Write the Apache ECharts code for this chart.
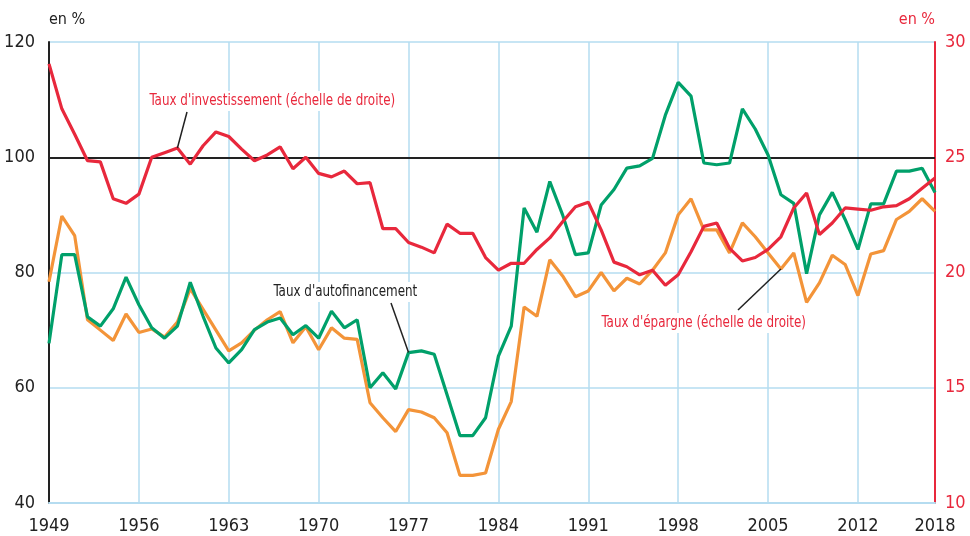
<!DOCTYPE html>
<html>
<head>
<meta charset="utf-8">
<script src="https://cdn.jsdelivr.net/npm/echarts@6/dist/echarts.min.js"></script>
<style>
html, body { margin: 0; padding: 0; background: #fff; }
#main { width: 970px; height: 536px; }
</style>
</head>
<body>
<div id="main"></div>
<script>
var years = [];
for (var y = 1949; y <= 2018; y++) {
    years.push(String(y));
}
// taux d'autofinancement (echelle de gauche)
var autofin = [67.7, 83.1, 83.1, 72.3, 70.7, 73.7, 79.2, 74.4, 70.4, 68.6,
    70.7, 78.3, 72.4, 66.9, 64.3, 66.6, 70.1, 71.4, 72.1, 69.2,
    70.8, 68.6, 73.3, 70.4, 71.8, 60.0, 62.6, 59.8, 66.1, 66.4,
    65.8, 58.8, 51.7, 51.7, 54.8, 65.5, 70.7, 91.2, 87.0, 95.8,
    90.0, 83.1, 83.4, 91.7, 94.4, 98.1, 98.5, 99.8, 107.3, 113.0,
    110.6, 99.0, 98.7, 99.0, 108.4, 104.9, 100.4, 93.5, 92.0, 79.8,
    90.0, 93.9, 89.2, 84.0, 91.9, 91.9, 97.6, 97.6, 98.1, 93.9];
// taux d'investissement (echelle de droite)
var invest = [29.05, 27.1, 26.0, 24.85, 24.8, 23.2, 23.0, 23.4, 25.0, 25.2,
    25.4, 24.7, 25.5, 26.1, 25.9, 25.35, 24.85, 25.1, 25.45, 24.5,
    25.0, 24.3, 24.15, 24.4, 23.85, 23.9, 21.9, 21.9, 21.3, 21.1,
    20.85, 22.1, 21.7, 21.7, 20.65, 20.1, 20.4, 20.4, 21.0, 21.5,
    22.2, 22.85, 23.05, 21.85, 20.45, 20.25, 19.9, 20.1, 19.45, 19.9,
    20.9, 22.0, 22.15, 21.05, 20.5, 20.65, 21.0, 21.55, 22.8, 23.45,
    21.65, 22.15, 22.8, 22.75, 22.7, 22.85, 22.9, 23.2, 23.65, 24.1];
// taux d'epargne (echelle de droite)
var epargne = [19.6, 22.45, 21.6, 17.95, 17.5, 17.05, 18.2, 17.4, 17.55, 17.2,
    17.85, 19.3, 18.4, 17.5, 16.6, 16.95, 17.5, 17.95, 18.3, 16.95,
    17.65, 16.65, 17.6, 17.15, 17.1, 14.35, 13.7, 13.1, 14.05, 13.95,
    13.7, 13.05, 11.2, 11.2, 11.3, 13.2, 14.4, 18.5, 18.1, 20.55,
    19.85, 18.95, 19.2, 20.0, 19.2, 19.75, 19.5, 20.1, 20.85, 22.5,
    23.2, 21.85, 21.85, 20.85, 22.15, 21.55, 20.85, 20.15, 20.85, 18.7,
    19.55, 20.75, 20.35, 19.0, 20.8, 20.95, 22.3, 22.65, 23.2, 22.65];

var FONT = "'Liberation Sans Narrow', 'DejaVu Sans Condensed', sans-serif";
var RED = '#e8283c';
var GREEN = '#00a06a';
var ORANGE = '#f39439';
var GRID = '#b5dcf0';

var chart = echarts.init(document.getElementById('main'));

function showTick(idx) {
    return idx % 7 === 0 || idx === years.length - 1;
}

var option = {
    animation: false,
    backgroundColor: '#fff',
    grid: { left: 49, right: 35, top: 42, bottom: 33 },
    xAxis: {
        type: 'category',
        boundaryGap: false,
        data: years,
        axisLine: { show: true, lineStyle: { color: GRID, width: 2 } },
        axisTick: { show: false },
        axisLabel: {
            interval: showTick,
            color: '#222',
            fontSize: 18,
            fontFamily: FONT,
            margin: 14
        },
        splitLine: {
            show: true,
            interval: showTick,
            lineStyle: { color: GRID, width: 1.5 }
        }
    },
    yAxis: [
        {
            type: 'value',
            min: 40,
            max: 120,
            interval: 20,
            name: 'en %',
            nameLocation: 'end',
            nameGap: 14,
            nameTextStyle: { color: '#222', fontSize: 16, fontFamily: FONT, align: 'left' },
            axisLine: { show: true, lineStyle: { color: '#222', width: 2 } },
            axisTick: { show: false },
            axisLabel: { color: '#222', fontSize: 18, fontFamily: FONT, margin: 14 },
            splitLine: { show: true, lineStyle: { color: GRID, width: 1.5 } }
        },
        {
            type: 'value',
            min: 10,
            max: 30,
            interval: 5,
            position: 'right',
            name: 'en %',
            nameLocation: 'end',
            nameGap: 14,
            nameTextStyle: { color: RED, fontSize: 16, fontFamily: FONT, align: 'right' },
            axisLine: { show: true, lineStyle: { color: RED, width: 2 } },
            axisTick: { show: false },
            axisLabel: { color: RED, fontSize: 18, fontFamily: FONT, margin: 10 },
            splitLine: { show: false }
        }
    ],
    series: [
        {
            name: "Taux d'épargne",
            type: 'line',
            yAxisIndex: 1,
            data: epargne,
            symbol: 'none',
            lineStyle: { color: ORANGE, width: 3.2 },
            z: 3
        },
        {
            name: "Taux d'autofinancement",
            type: 'line',
            yAxisIndex: 0,
            data: autofin,
            symbol: 'none',
            lineStyle: { color: GREEN, width: 3.2 },
            z: 4,
            markLine: {
                silent: true,
                symbol: 'none',
                label: { show: false },
                lineStyle: { color: '#222', width: 2, type: 'solid' },
                data: [{ yAxis: 100 }],
                z: 2
            }
        },
        {
            name: "Taux d'investissement",
            type: 'line',
            yAxisIndex: 1,
            data: invest,
            symbol: 'none',
            lineStyle: { color: RED, width: 3.2 },
            z: 5
        }
    ]
};
chart.setOption(option);

// annotations: leader lines point at data points
function pt(yearStr, val, axis) {
    return chart.convertToPixel({ xAxisIndex: 0, yAxisIndex: axis }, [yearStr, val]);
}
var pInv = pt('1959', invest[10], 1);
var pAuto = pt('1977', autofin[28], 0);
var pEp = pt('2006', epargne[57], 1);

function label(text, x, y, color) {
    return {
        type: 'text',
        x: x,
        y: y,
        scaleX: 0.83,
        z: 100,
        style: {
            text: text,
            fill: color,
            font: '16px ' + FONT,
            textVerticalAlign: 'middle',
            backgroundColor: '#fff',
            padding: [2, 3]
        }
    };
}
function leader(x1, y1, p) {
    return {
        type: 'line',
        z: 99,
        shape: { x1: x1, y1: y1, x2: p[0], y2: p[1] },
        style: { stroke: '#222', lineWidth: 1.5 }
    };
}

chart.setOption({
    graphic: [
        leader(187, 112, pInv),
        label("Taux d'investissement (échelle de droite)", 147, 101, RED),
        leader(391, 303, pAuto),
        label("Taux d'autofinancement", 271, 292, '#222'),
        leader(738, 310, pEp),
        label("Taux d'épargne (échelle de droite)", 599, 323, RED)
    ]
});
</script>
</body>
</html>
